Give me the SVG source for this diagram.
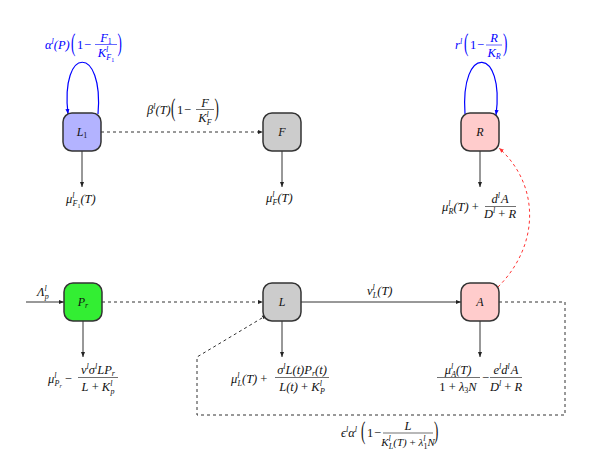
<svg xmlns="http://www.w3.org/2000/svg" width="594" height="460" viewBox="0 0 594 460">
<style>
.m{font-family:"Liberation Serif","DejaVu Serif",serif;font-style:italic;font-size:12.5px;fill:#111}
.u{font-style:normal}
.s{font-size:8px}
.t{font-size:6px}
.p{font-family:"Liberation Serif","DejaVu Serif",serif;font-size:13px;fill:#111}
.b{fill:#0000ff}
.n{stroke:#333;stroke-width:1.5}
.nl{font-family:"Liberation Serif","DejaVu Serif",serif;font-style:italic;font-size:12px;fill:#111;text-anchor:middle}
.c{fill:none;stroke:#333;stroke-width:1}
.d{stroke-dasharray:3 3}
.bar{stroke:#111;stroke-width:0.6}
.bb{stroke:#0000ff;stroke-width:0.6}
.mid{text-anchor:middle}
</style>
<defs>
<marker id="ah" viewBox="0 0 10 10" refX="10" refY="5" markerWidth="5" markerHeight="5" markerUnits="userSpaceOnUse" orient="auto"><path d="M0,1 L10,5 L0,9 z" fill="#222"/></marker>
<marker id="ahb" viewBox="0 0 10 10" refX="10" refY="5" markerWidth="5" markerHeight="5" markerUnits="userSpaceOnUse" orient="auto"><path d="M0,1 L10,5 L0,9 z" fill="#0000ff"/></marker>
<marker id="ahr" viewBox="0 0 10 10" refX="10" refY="5" markerWidth="5" markerHeight="5" markerUnits="userSpaceOnUse" orient="auto"><path d="M0,1 L10,5 L0,9 z" fill="#ff3333"/></marker>
</defs>

<g id="connectors">
<path class="c" d="M98 114 C104 45 60 45 68 114" style="stroke:#0000ff;stroke-width:1.2" marker-end="url(#ahb)"/>
<path class="c" d="M465 114 C460 43 505 47 496 115" style="stroke:#0000ff;stroke-width:1.2" marker-end="url(#ahb)"/>
<path class="c d" d="M101 132 H263" marker-end="url(#ah)"/>
<path class="c" d="M82 151 V187" marker-end="url(#ah)"/>
<path class="c" d="M282 151 V187" marker-end="url(#ah)"/>
<path class="c" d="M480 151 V187" marker-end="url(#ah)"/>
<path class="c" d="M26 302 H64" marker-end="url(#ah)"/>
<path class="c d" d="M102 302 H263" marker-end="url(#ah)"/>
<path class="c" d="M301 302 H461" marker-end="url(#ah)"/>
<path class="c" d="M83 321 V357" marker-end="url(#ah)"/>
<path class="c" d="M282 321 V357" marker-end="url(#ah)"/>
<path class="c" d="M480 321 V357" marker-end="url(#ah)"/>
<path class="c d" d="M499 302 H565 V415 H197 V357 L267 315" marker-end="url(#ah)"/>
<path class="c d" d="M498 287 C540 245 540 185 499 148" style="stroke:#ff3333" marker-end="url(#ahr)"/>
</g>

<g id="node-L1"><rect class="n" x="63" y="113" width="38" height="38" rx="9" fill="#b3b3ff"/><text class="nl" x="82" y="136">L<tspan class="u s" dy="2">1</tspan></text></g>
<g id="node-F"><rect class="n" x="263" y="113" width="38" height="38" rx="9" fill="#cccccc"/><text class="nl" x="282" y="136">F</text></g>
<g id="node-R"><rect class="n" x="461" y="113" width="38" height="38" rx="9" fill="#ffcccc"/><text class="nl" x="480" y="136">R</text></g>
<g id="node-Pr"><rect class="n" x="64" y="283" width="38" height="38" rx="9" fill="#33ee33"/><text class="nl" x="83" y="306">P<tspan class="s" dy="2">r</tspan></text></g>
<g id="node-L"><rect class="n" x="263" y="283" width="38" height="38" rx="9" fill="#cccccc"/><text class="nl" x="282" y="306">L</text></g>
<g id="node-A"><rect class="n" x="461" y="283" width="38" height="38" rx="9" fill="#ffcccc"/><text class="nl" x="480" y="306">A</text></g>

<g id="labels">
<!-- L1 self loop -->
<text class="m b" x="45" y="49">α<tspan class="s" dy="-5">l</tspan><tspan dy="5">(P)</tspan></text>
<text class="p b" transform="translate(71,50.5) scale(1,1.9)">(</text>
<text class="m u b" x="77" y="49">1</text><text class="m u b" x="84" y="49">−</text>
<text class="m b mid" x="106" y="41.5">F<tspan class="u s" dy="2">1</tspan></text>
<line class="bb" x1="95" y1="44.5" x2="117" y2="44.5"/>
<text class="m b mid" x="106" y="57">K<tspan class="s" dy="-5">l</tspan><tspan class="s" dx="-2" dy="8">F</tspan><tspan class="t u" dy="1.5">1</tspan></text>
<text class="p b" transform="translate(117.5,50.5) scale(1,1.9)">)</text>

<!-- R self loop -->
<text class="m b" x="455" y="49">r<tspan class="s" dy="-5">l</tspan></text>
<text class="p b" transform="translate(464,51) scale(1,1.9)">(</text>
<text class="m u b" x="470" y="49">1</text><text class="m u b" x="477" y="49">−</text>
<text class="m b mid" x="494" y="42">R</text>
<line class="bb" x1="486" y1="45" x2="502" y2="45"/>
<text class="m b mid" x="494" y="57">K<tspan class="s" dy="2">R</tspan></text>
<text class="p b" transform="translate(503,51) scale(1,1.9)">)</text>

<!-- beta -->
<text class="m" x="147" y="114">β<tspan class="s" dy="-5">l</tspan><tspan dy="5">(T)</tspan></text>
<text class="p" transform="translate(171,115.5) scale(1,1.9)">(</text>
<text class="m u" x="177" y="114">1</text><text class="m u" x="184" y="114">−</text>
<text class="m mid" x="205" y="106.5">F</text>
<line class="bar" x1="196" y1="109.5" x2="214" y2="109.5"/>
<text class="m mid" x="205" y="122">K<tspan class="s" dy="-5">l</tspan><tspan class="s" dx="-2" dy="8">F</tspan></text>
<text class="p" transform="translate(214.5,115.5) scale(1,1.9)">)</text>

<!-- top mu labels -->
<text class="m" x="66" y="203">μ<tspan class="s" dy="-5">l</tspan><tspan class="s" dx="-2" dy="8">F</tspan><tspan class="t u" dy="1.5">1</tspan><tspan dy="-4.5">(T)</tspan></text>
<text class="m" x="266" y="202">μ<tspan class="s" dy="-5">l</tspan><tspan class="s" dx="-2" dy="8">F</tspan><tspan dy="-3">(T)</tspan></text>
<text class="m" x="442" y="211">μ<tspan class="s" dy="-5">l</tspan><tspan class="s" dx="-2" dy="8">R</tspan><tspan dy="-3">(T)</tspan><tspan class="u" dx="3">+</tspan></text>
<text class="m mid" x="500" y="203">d<tspan class="s" dy="-5">l</tspan><tspan dx="1" dy="5">A</tspan></text>
<line class="bar" x1="485" y1="206.5" x2="516" y2="206.5"/>
<text class="m mid" x="500" y="218">D<tspan class="s" dy="-5">l</tspan><tspan class="u" dy="5"> + </tspan>R</text>

<!-- Lambda and nu -->
<text class="m" x="37" y="296">Λ<tspan class="s" dy="-5">l</tspan><tspan class="s" dx="-2" dy="8">p</tspan></text>
<text class="m" x="367" y="295">ν<tspan class="s" dy="-5">l</tspan><tspan class="s" dx="-2" dy="8">L</tspan><tspan dy="-3">(T)</tspan></text>

<!-- P_r label -->
<text class="m" x="48" y="383">μ<tspan class="s" dy="-5">l</tspan><tspan class="s" dx="-2" dy="8">P</tspan><tspan class="t" dy="1.5">r</tspan><tspan class="u" dx="3" dy="-4.5">−</tspan></text>
<text class="m mid" x="98" y="374">ν<tspan class="s" dy="-5">l</tspan><tspan dy="5">σ</tspan><tspan class="s" dy="-5">l</tspan><tspan dy="5">LP</tspan><tspan class="s" dy="2">r</tspan></text>
<line class="bar" x1="78" y1="377.5" x2="118" y2="377.5"/>
<text class="m mid" x="98" y="391">L<tspan class="u"> + </tspan>K<tspan class="s" dy="-5">l</tspan><tspan class="s" dx="-2" dy="8">p</tspan></text>

<!-- L label -->
<text class="m" x="231" y="383">μ<tspan class="s" dy="-5">l</tspan><tspan class="s" dx="-2" dy="8">L</tspan><tspan dy="-3">(T)</tspan><tspan class="u" dx="3">+</tspan></text>
<text class="m mid" x="302" y="374">σ<tspan class="s" dy="-5">l</tspan><tspan dy="5">L(t)P</tspan><tspan class="s" dy="2">r</tspan><tspan dy="-2">(t)</tspan></text>
<line class="bar" x1="275" y1="377.5" x2="329" y2="377.5"/>
<text class="m mid" x="302" y="391">L(t)<tspan class="u"> + </tspan>K<tspan class="s" dy="-5">l</tspan><tspan class="s" dx="-2" dy="8">P</tspan></text>

<!-- A label -->
<text class="m mid" x="458" y="374">μ<tspan class="s" dy="-5">l</tspan><tspan class="s" dx="-2" dy="8">A</tspan><tspan dy="-3">(T)</tspan></text>
<line class="bar" x1="437" y1="377.5" x2="480" y2="377.5"/>
<text class="m mid" x="458" y="391"><tspan class="u">1 + </tspan>λ<tspan class="s u" dy="2">3</tspan><tspan dy="-2">N</tspan></text>
<text class="m u" x="482" y="382">−</text>
<text class="m mid" x="506" y="374">e<tspan class="s" dy="-5">l</tspan><tspan dy="5">d</tspan><tspan class="s" dy="-5">l</tspan><tspan dx="1" dy="5">A</tspan></text>
<line class="bar" x1="490" y1="377.5" x2="522" y2="377.5"/>
<text class="m mid" x="506" y="391">D<tspan class="s" dy="-5">l</tspan><tspan class="u" dy="5"> + </tspan>R</text>

<!-- bottom feedback label -->
<text class="m" x="341" y="437">ϵ<tspan class="s" dy="-5">l</tspan><tspan dy="5">α</tspan><tspan class="s" dy="-5">l</tspan></text>
<text class="p" transform="translate(361,439) scale(1,1.9)">(</text>
<text class="m u" x="367" y="437">1</text><text class="m u" x="374" y="437">−</text>
<text class="m mid" x="408" y="430">L</text>
<line class="bar" x1="383" y1="433" x2="433" y2="433"/>
<text class="m mid" x="408" y="446" style="font-size:11px">K<tspan class="s" dy="-5">l</tspan><tspan class="s" dx="-2" dy="8">L</tspan><tspan dy="-3">(T)</tspan><tspan class="u"> + </tspan>λ<tspan class="s" dy="-5">l</tspan><tspan class="s u" dx="-2" dy="8">1</tspan><tspan dy="-3">N</tspan></text>
<text class="p" transform="translate(434,439) scale(1,1.9)">)</text>
</g>
</svg>
